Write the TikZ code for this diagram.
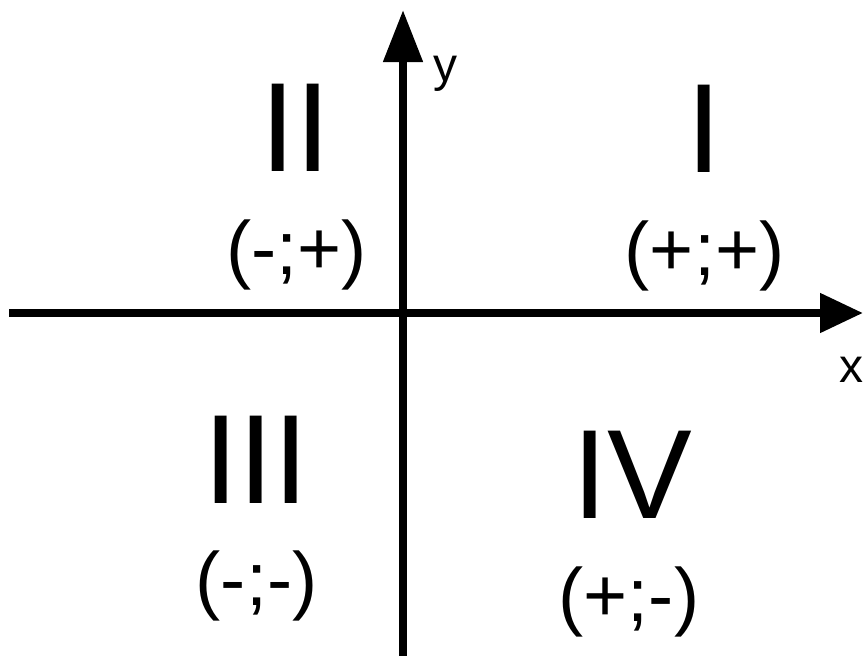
\documentclass[tikz,border=0pt]{standalone}
\usepackage{fontspec}
\setmainfont{Liberation Sans}
\usetikzlibrary{arrows.meta}
\begin{document}
\begin{tikzpicture}[x=1pt,y=-1pt,
  numeral/.style={font=\fontsize{127}{127}\selectfont, inner sep=0pt, anchor=base},
  signs/.style={font=\fontsize{75.5}{76}\selectfont, inner sep=0pt, anchor=base},
  axislabel/.style={font=\fontsize{48}{48}\selectfont, inner sep=0pt, anchor=base},
  axisline/.style={line width=8pt}]
\useasboundingbox (0,0) rectangle (865,656);
\clip (0,0) rectangle (865,656);
\coordinate (xs) at (9,313);
\coordinate (xe) at (863,313);
\coordinate (ys) at (403,662);
\coordinate (ye) at (403,10);
\draw[axisline, -{Triangle[length=43pt,width=38pt]}] (xs) -- (xe);
\draw[axisline, -{Triangle[length=52pt,width=38pt]}] (ys) -- (ye);
\node[axislabel] (ylab) at (445.5,81) {y};
\node[axislabel] (xlab) at (851.5,382) {x};
\node[numeral] (q2) at (295.5,171) {II};
\node[numeral] (q1) at (704.5,172) {I};
\node[numeral] (q3) at (256,503) {III};
\node[numeral] (q4) at (632,518) {IV};
\node[signs] (s2) at (296.5,274) {(-;+)};
\node[signs] (s1) at (704.5,275) {(+;+)};
\node[signs] (s3) at (256.5,605) {(-;-)};
\node[signs] (s4) at (629,621) {(+;-)};
\end{tikzpicture}
\end{document}
